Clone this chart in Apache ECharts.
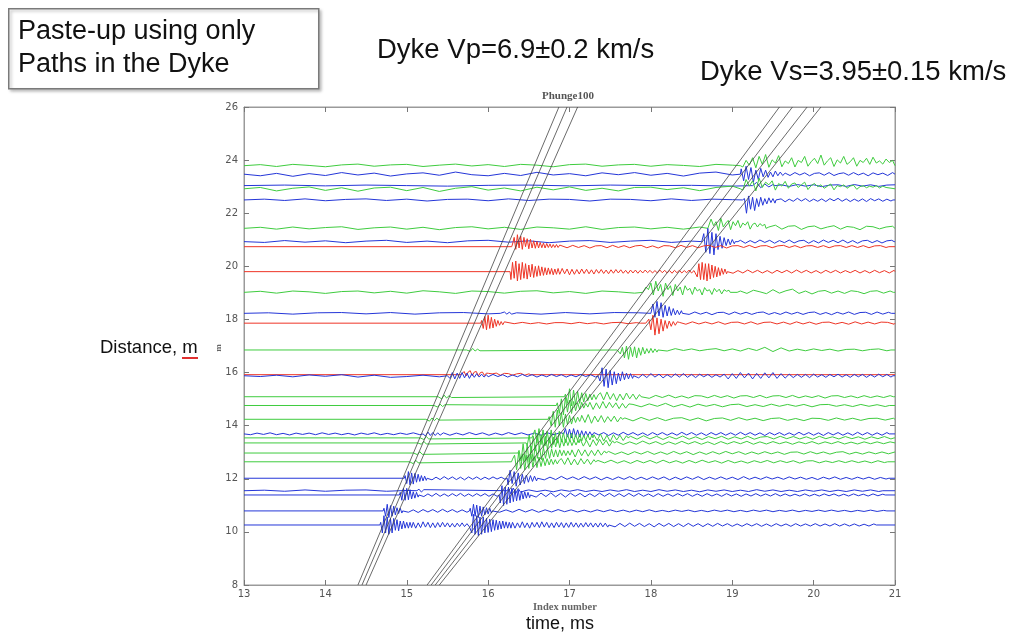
<!DOCTYPE html>
<html>
<head>
<meta charset="utf-8">
<script src="https://cdn.jsdelivr.net/npm/echarts@6/dist/echarts.min.js"></script>
<style>html,body{margin:0;padding:0;background:#fff;}#chart{width:1015px;height:637px;}</style>
</head>
<body>
<div id="chart"></div>
<script>
// ---- axis ticks ----
const xTicks = [13, 14, 15, 16, 17, 18, 19, 20, 21];
const yTicks = [8, 10, 12, 14, 16, 18, 20, 22, 24, 26];

// ---- move-out lines: time (ms) at distance 8 m and at 26 m ----
const lineDepths = [8, 26];
const pLines = [[14.40, 16.87], [14.45, 16.97], [14.50, 17.10]];
const sLines = [[15.25, 19.58], [15.30, 19.74], [15.35, 19.92], [15.40, 20.09]];

// ---- traces: kind (g=green, b=blue, r=red), baseline distance (m) ----
const traceKinds = ['g','b','b','g','b','g','b','r','r','g','b','r','g','r','b','g','g','g','b','g','g','g','g','b','b','b','b','b'];
const traceBase = [23.79, 23.47, 23.04, 22.92, 22.50, 21.43, 20.93, 20.74, 19.80, 19.02, 18.23, 17.86, 16.85, 15.92, 15.88, 15.09, 14.76, 14.24, 13.69, 13.54, 13.35, 12.97, 12.64, 12.02, 11.55, 11.39, 10.79, 10.26];

// ---- trace wiggles: [start time, sample step, offsets (m)] ----
const traceWiggles = [
  [[13, 0.2, [0,.04,-.03,.05,.01,-.04,.03,.06,-.02,.03,.05,-.03,.02,.06,-.01,.04,-.03,.05,.02,-.04,.04,.06,-.02,.03,.05,-.02,.04,.01,-.03,.05,.02]],
   [19.05, 0.04, [.05,.12,-.05,.2,.02,.3,-.08,.35,.05,.42,-.06,.22,.1,.38,-.04,.18,.08,.3,-.05,.2,.12,.35,-.02,.15,.28,.08,.4,.02,.18,.3,-.03,.22,.1,.35,.05,.15,.3,-.02,.2,.12,.28,.05,.32,.1,.18,.06,.25,.12,.2,.1]]],
  [[13, 0.2, [0,-.06,.03,-.08,.02,-.05,.06,-.03,.04,-.07,.01,.05,-.04,.08,-.02,-.06,.03,-.05,.07,-.03,.02,-.06,.05,-.02,.06,-.04,.03,-.07,.04,.08,-.03]],
   [19.05, 0.03, [.05,-.15,.2,-.25,.3,-.2,.25,-.3,.15,-.2,.22,-.1,.15,-.12,.08,-.1,.12,-.06,.08,-.05]],
   [19.65, 0.06, [.04,-.05,.06,-.03,.05,-.06,.03,.05,-.04,.06,-.05,.02,.05,-.04,.06,-.03,.04,-.06,.05,-.02,.04,-.05,.06]]],
  [[13, 0.5, [0,.02,-.01,.02,0,-.02,.01,.02,-.01,.02,0,.01,-.02]],
   [19.1, 0.05, [.1,-.15,.2,-.1,.12,-.08,.06,-.05,.04]],
   [19.6, 0.1, [.03,-.03,.04,-.02,.03,-.04,.02,.03,-.03,.04,-.02,.03,-.03,.02,.03]]],
  [[13, 0.2, [0,.05,-.08,.02,.07,-.06,.04,-.09,.03,.06,-.07,.05,-.1,.02,.08,-.05,.03,-.08,.06,-.04,.07,-.06,.02,-.08,.05,.06,-.03,.04,-.07,.05,.1]],
   [19.05, 0.04, [.1,.25,-.05,.35,.1,.3,-.08,.4,.05,.25,.15,.3,-.05,.2,.1,.28,.02,.18,.22,.05,.15,.25,-.03,.12,.2,.08,.15,.02,.1,.18,-.04,.12,.08,.15,.02,.1,.14,-.02,.08,.12,.04,.1,.06,.12,.03,.1,.05]]],
  [[13, 0.25, [0,.03,-.02,.04,-.03,.02,.04,-.02,.03,-.04,.02,.03,-.03,.04,-.02,.03,.02,-.04,.03,.02,-.03,.04,-.02,.03,.01]],
   [19.05, 0.025, [-.1,-.3,.1,-.45,.05,-.5,.15,-.35,.1,-.4,.05,-.25,.1,-.2,.05,-.15,.08,-.1,.05,-.12]],
   [19.55, 0.05, [-.06,.04,-.07,.03,-.05,.06,-.04,.05,-.06,.03,-.05,.04,-.06,.05,-.03,.06,-.05,.04,-.06,.03,-.05,.04,-.06,.05,-.03,.04,-.05,.03,-.04]]],
  [[13, 0.2, [0,.04,-.03,.05,-.02,.03,.06,-.04,.02,.05,-.03,.04,-.05,.03,.06,-.02,.04,-.04,.05,.02,-.03,.06,-.04,.03,.05,-.02,.04,-.03,.05]],
   [18.65, 0.03, [.1,.3,-.05,.35,.1,.25,-.08,.38,.05,.2,.3,-.05,.25,.1,.3,.02,.2,.12,.25,-.03,.15,.2,.05,.18,.1,.15]],
   [19.45, 0.08, [.05,.12,-.03,.08,.1,-.04,.06,.09,-.02,.05,.1,-.03,.07,.04,-.05,.08,.06,-.02,.05,.08]]],
  [[13, 0.25, [0,-.03,.04,-.02,.03,-.04,.02,.05,-.03,.02,-.04,.03,.05,-.02,.03,-.04,.02,.04,-.03,.02,.05,-.03,.02]],
   [18.6, 0.025, [.05,-.2,.3,-.4,.5,-.45,.35,-.5,.3,-.3,.2,-.25,.15,-.15,.1,-.12,.08,-.08]],
   [19.1, 0.06, [.05,-.06,.04,-.05,.06,-.03,.05,-.06,.04,-.04,.06,-.05,.03,.05,-.06,.04,-.05,.06,-.03,.05,-.04,.06,-.05,.04,-.06,.03,.05,-.04,.04,-.05,.03,.05]]],
  [[16.3, 0.02, [.1,.35,-.1,.45,-.05,.4,-.1,.35,0,.3,-.08,.28,-.05,.22,-.06,.2,-.05,.16,-.04,.14,-.05,.12,-.03,.1,-.04,.08,-.03,.08,-.03,.06]],
   [16.9, 0.07, [.04,-.04,.05,-.03,.04,-.05,.03,.04,-.04,.05,-.03,.04,-.04,.03,.05,-.04,.03,-.05,.04,.03,-.04,.05,-.03,.04,-.04,.03,.05,-.03,.04,-.05,.03,.04,-.03,.05,-.04,.03,.04,-.04,.03,.05,-.03,.04,-.04,.03,.04,-.03,.04,-.04,.03,.04,-.03,.04,-.03,.04,-.04,.03,.04,-.03]]],
  [[16.28, 0.02, [-.3,.35,-.25,.4,-.35,.3,-.3,.35,-.25,.3,-.28,.25,-.2,.28,-.22,.2,-.18,.22,-.15,.18,-.14,.15,-.12,.14,-.1,.12,-.12,.1,-.1,.12]],
   [16.88, 0.03, [-.1,.12,-.08,.1,-.12,.09,-.1,.08,-.09,.1,-.07,.09,-.08,.07,-.09,.08,-.06,.08,-.07,.06,-.08,.07,-.06,.08,-.05,.07,-.06,.05,-.07,.06,-.05,.06,-.06,.05,-.05,.06,-.04,.05,-.05,.04,-.05,.06,-.04,.05,-.05,.04,-.06,.05,-.04,.05,-.05,.04,-.04,.06,-.05,.04]],
   [18.55, 0.02, [.1,-.2,.3,-.3,.35,-.3,.3,-.35,.3,-.28,.25,-.22,.2,-.2,.15,-.15,.12,-.1,.1,-.08]],
   [18.95, 0.06, [.05,-.06,.04,-.05,.06,-.04,.05,-.05,.04,-.06,.05,-.04,.05,-.05,.06,-.04,.05,-.05,.04,-.06,.05,-.04,.05,-.05,.04,-.04,.05,-.05,.04,-.05,.05,-.04,.04,-.05,.05]]],
  [[13, 0.2, [0,.04,-.03,.05,.02,-.04,.03,.05,-.02,.04,-.03,.06,.02,-.04,.05,.03,-.03,.04,.06,-.02,.03,-.04,.05,.02,-.03]],
   [17.85, 0.03, [.05,.15,-.05,.2,.1,.35,-.1,.42,.05,.3,-.15,.35,.1,.25,-.12,.3,.05,.2,-.1,.25,.08,.15,-.08,.2,.05,.12,-.1,.18,.05,.1,-.08,.15,.02,.12,-.06,.1,.04,.08]],
   [19.1, 0.08, [.05,-.04,.08,.02,-.05,.1,-.03,.06,.12,-.04,.05,-.06,.04,.07,-.03,.05,-.04,.06,.03,-.05,.04,.06,-.03,.05]]],
  [[13, 0.3, [0,.02,-.03,.02,.03,-.02,.03,-.03,.02,.03,-.02]],
   [16.02, 0.03, [.05,-.06,.08,-.05,.06,-.04,.05,-.03,.04,-.03]],
   [16.35, 0.3, [.02,-.03,.03,-.02,.03,.02]],
   [17.95, 0.025, [.05,.2,-.1,.35,-.15,.45,-.1,.4,-.15,.3,-.1,.25,-.08,.18,-.06,.12,-.05,.1]],
   [18.4, 0.07, [.04,-.04,.05,-.03,.04,-.05,.03,.04,-.04,.05,-.03,.04,-.04,.03,.05,-.04,.03,-.04,.05,-.03,.04,-.04,.03,.05,-.04,.03,-.05,.04,-.03,.05,-.04,.03,.04,-.04,.05,-.03,.04]]],
  [[15.92, 0.02, [.1,-.2,.25,-.25,.3,-.2,.22,-.18,.15,-.12,.1,-.08,.06,-.06,.05]],
   [16.22, 0.1, [.02,-.02,.03,-.02,.02,-.03,.02,.02,-.02,.03,-.02,.02,-.03,.02,.03,-.02,.02]],
   [17.95, 0.025, [-.05,.15,-.25,.3,-.45,.2,-.4,.15,-.3,.1,-.2,.08,-.12,.06,-.08,.05]],
   [18.35, 0.08, [.03,-.04,.05,-.03,.04,-.03,.05,-.04,.03,.04,-.03,.05,-.04,.03,.04,-.03,.04,-.04,.05,-.03,.04,-.04,.03,.04,-.03,.03,-.04,.05,-.03,.04,-.03,.04,.03,-.04]]],
  [[15.75, 0.03, [.04,-.05,.06,-.04,.03,-.03]],
   [17.6, 0.025, [.05,-.15,.1,-.3,.15,-.35,.1,-.25,.12,-.3,.08,-.2,.1,-.15,.05,-.12,.06,-.1,.04,-.08]],
   [18.1, 0.1, [.03,-.04,.05,-.02,.04,-.03,.02,.05,-.03,.04,-.04,.06,-.02,.1,-.06,.08,-.04,.03,-.03,.04,-.02,.03,-.04,.02,.03,-.03,.02,.04,-.03]]],
  [[15.68, 0.025, [.05,.12,-.05,.1,.15,-.04,.1,.12,-.05,.08,.1,-.03,.06,.05]],
   [16.05, 0.05, [.03,.06,-.02,.05,.04,-.02,.03,.05,-.02,.03]]],
  [[13, 0.2, [0,-.03,.02,-.04,.03,-.02,.04,-.05,.02,-.06,-.03,.02,-.04]],
   [15.5, 0.03, [.05,-.1,.12,-.12,.1,-.1,.12,-.08,.1,-.1,.08,-.06,.08,-.05,.06,-.05,.04]],
   [16.0, 0.06, [-.04,.05,-.03,.04,-.05,.03,-.04,.05,-.03,.04,-.05,.03,-.04,.05,-.03,.04,-.05,.03,-.04,.05,-.03,.04,-.05]],
   [17.35, 0.025, [.1,-.2,.3,-.4,.25,-.45,.2,-.35,.15,-.3,.1,-.2,.15,-.15,.1,-.12,.08,-.1]],
   [17.8, 0.05, [.06,-.08,.05,-.07,.08,-.05,.06,-.08,.04,-.06,.07,-.05,.08,-.06,.05,-.07,.06,-.04,.05,-.06,.04,-.05,.06,-.12,.08,-.1,.12,-.08,.1,-.12,.09,-.1,.11,-.08,.12,-.1,.08,-.09,.06,-.07,.05,-.06,.05,-.07,.06,-.05,.04,-.06,.05,-.04,.06,-.05,.04,-.06,.05,-.04,.05,-.06,.04,-.05,.06,-.04,.05,-.05]]],
  [[15.4, 0.03, [.05,-.08,.06,-.05,.04,-.03]],
   [16.95, 0.025, [.1,-.25,.3,-.35,.25,-.3,.2,-.25,.15,-.2,.12,-.15,.1,-.12,.08,-.1,.06]],
   [17.38, 0.04, [.15,-.12,.18,-.1,.12,-.15,.1,-.12,.14,-.08,.1,-.1,.08]],
   [17.9, 0.08, [.04,-.06,.05,-.03,.06,-.04,.03,-.05,.04,.03,-.04,.05,-.03,.04,-.05,.03,.04,-.03,.05,-.04,.03,.04,-.03,.05,-.04,.03,-.03,.04,-.05,.03,.04,-.03,.03,-.04,.04,-.03,.03,-.03,.04]]],
  [[15.35, 0.03, [.05,-.06,.05,-.04,.03]],
   [16.85, 0.025, [.1,-.3,.25,-.35,.3,-.25,.2,-.3,.15,-.2,.1,-.15,.12,-.1,.08,-.06]],
   [17.25, 0.04, [.12,-.15,.1,-.12,.15,-.1,.12,-.08,.1,-.12,.08,-.1,.06]],
   [17.78, 0.1, [.04,-.05,.06,-.03,.08,-.05,.04,-.06,.05,-.03,.04,-.05,.03,.05,-.04,.03,-.04,.05,-.03,.04,-.03,.04,-.05,.03,.04,-.03,.03,-.04,.04,-.03,.03,-.04]]],
  [[15.25, 0.03, [.06,-.07,.05,-.05,.04,-.03]],
   [16.75, 0.025, [.1,-.25,.3,-.3,.35,-.25,.25,-.3,.2,-.2,.15,-.18,.1,-.12,.08,-.08]],
   [17.15, 0.04, [.15,-.12,.18,-.15,.12,-.1,.14,-.12,.1,-.08,.12,-.1,.08]],
   [17.68, 0.1, [.05,-.06,.07,-.04,.06,-.05,.04,.06,-.04,.05,-.06,.03,.05,-.04,.06,-.03,.04,-.05,.03,.05,-.04,.03,-.05,.04,.03,-.04,.05,-.03,.04,-.04,.03,.04,-.03,.04]]],
  [[13, 0.08, [.02,-.03,.03,-.02,.04,-.03,.02,-.04,.03,-.02,.03,-.03,.04,-.02,.03,-.03,.02,-.04,.03,-.02,.04,-.03,.02,-.03,.03,-.02,.04,-.03]],
   [15.2, 0.03, [.06,-.08,.07,-.06,.05,-.06,.04,-.05]],
   [15.45, 0.08, [.04,-.05,.03,-.04,.05,-.03,.04,-.05,.03,-.04,.05,-.03,.04,-.04,.03,-.05,.04,-.03,.05]],
   [16.9, 0.025, [.1,-.15,.2,-.12,.18,-.15,.2,-.1,.15,-.12,.12,-.1,.1,-.08,.08,-.06]],
   [17.3, 0.06, [.05,-.04,.05,-.06,.04,-.05,.06,-.04,.05,-.05,.04,-.06,.05,-.04,.05,-.05,.04,-.05,.06,-.04,.05,-.05,.04,-.06,.05,-.04,.05,-.05,.04,-.05,.06,-.04,.05,-.05,.04,-.06,.05,-.04,.05,-.05,.04,-.05,.06,-.04,.05,-.05,.04,-.06,.05,-.04,.05,-.05,.04,-.05,.06,-.04,.05,-.05,.04,-.05,.05]]],
  [[15.18, 0.03, [.05,-.06,.05,-.04]],
   [16.55, 0.025, [.1,.3,-.2,.35,-.25,.3,-.3,.25,-.2,.3,-.25,.2,-.2,.25,-.15,.2,-.18,.15,-.12,.18,-.15,.12,-.1,.15,-.12,.1,-.1,.12,-.08,.1]],
   [17.3, 0.04, [.12,-.1,.15,-.12,.1,-.14,.12,-.08,.1,-.1,.08]],
   [17.75, 0.08, [.06,-.05,.08,-.04,.06,-.06,.05,-.04,.07,-.05,.04,-.06,.05,-.03,.06,-.05,.04,-.04,.06,-.05,.03,.05,-.04,.06,-.03,.05,-.04,.04,-.05,.06,-.03,.04,-.04,.05,-.03,.04,-.05,.04,-.03,.05,-.04]]],
  [[15.15, 0.03, [.05,-.05,.06,-.04]],
   [16.48, 0.025, [-.1,.3,-.35,.25,-.3,.35,-.25,.3,-.2,.25,-.25,.2,-.2,.22,-.15,.18,-.18,.15,-.12,.15,-.1,.12,-.1,.1,-.08,.1]],
   [17.13, 0.04, [.15,-.12,.1,-.15,.12,-.1,.14,-.08,.1,-.12,.08]],
   [17.58, 0.08, [.05,-.06,.04,-.05,.07,-.04,.05,-.06,.04,-.05,.06,-.04,.05,-.05,.04,-.06,.05,-.04,.05,-.03,.06,-.05,.04,-.04,.05,-.03,.04,-.05,.04,-.03,.05,-.04,.04,-.03,.05,-.04,.03,-.04,.04,-.03,.04,-.03,.04,-.03]]],
  [[15.1, 0.03, [.06,-.06,.05,-.05]],
   [16.38, 0.025, [.1,-.3,.35,-.3,.3,-.35,.25,-.3,.3,-.2,.25,-.25,.2,-.2,.18,-.2,.15,-.15,.12,-.15,.12,-.1,.1,-.1,.08,-.08]],
   [17.03, 0.04, [.12,-.15,.14,-.1,.12,-.12,.1,-.1,.12,-.08,.08]],
   [17.48, 0.08, [.06,-.05,.04,-.06,.05,-.04,.06,-.05,.04,-.05,.06,-.04,.05,-.06,.04,-.05,.05,-.04,.06,-.03,.05,-.05,.04,-.04,.05,-.03,.04,-.05,.03,.04,-.04,.05,-.03,.04,-.04,.03,.05,-.04,.03,-.04,.04,-.03,.04,-.03,.04]]],
  [[15.05, 0.03, [.05,-.07,.06,-.04]],
   [16.3, 0.025, [.1,.25,-.3,.35,-.25,.3,-.3,.25,-.25,.3,-.2,.2,-.22,.18,-.18,.15,-.15,.12,-.12,.1,-.1,.08,-.08,.06]],
   [16.9, 0.04, [.12,-.1,.15,-.12,.1,-.12,.12,-.08,.1,-.1,.08]],
   [17.35, 0.08, [.05,-.04,.06,-.05,.04,-.06,.05,-.04,.05,-.05,.06,-.04,.04,-.05,.05,-.04,.06,-.03,.04,-.05,.05,-.04,.03,-.05,.04,-.03,.05,-.04,.04,-.03,.04,-.05,.03,.04,-.04,.03,-.03,.04,-.03,.04,-.03,.03,-.04,.04,-.03]]],
  [[14.98, 0.02, [.1,-.2,.25,-.25,.2,-.22,.18,-.15,.15,-.12,.1,-.1,.08,-.08]],
   [15.26, 0.05, [.05,-.06,.04,-.05,.06,-.04,.05,-.05,.04,-.06,.05,-.04,.05,-.05,.04,-.04,.05,-.03,.04,-.04]],
   [16.22, 0.025, [.1,-.25,.3,-.2,.25,-.3,.2,-.25,.15,-.2,.12,-.15,.1,-.12,.08,-.1]],
   [16.62, 0.07, [.05,-.06,.04,-.05,.07,-.04,.05,-.05,.06,-.04,.05,-.06,.04,-.05,.05,-.04,.06,-.05,.04,-.05,.05,-.04,.05,-.06,.04,-.05,.05,-.04,.06,-.05,.04,-.04,.05,-.04,.04,-.05,.06,-.04,.04,-.04,.05,-.03,.04,-.04,.05,-.03,.04,-.04,.03,-.05,.04,-.03,.05,-.04,.03,-.04,.04,-.03,.04,-.04,.03,-.03]]],
  [[13, 0.25, [0,.02,-.02,.03,-.02,.02,.03,-.02,.01]],
   [15.03, 0.03, [.05,-.08,.1,-.08,.06,-.05,.04]],
   [16.25, 0.03, [.08,-.12,.1,-.1,.08,-.06]],
   [16.5, 0.1, [.03,-.03,.02,-.04,.03,-.02,.04,-.03,.02,-.03,.03,-.02,.04,-.03,.02,-.03,.04,-.02,.03,-.03,.02,-.04,.03,-.02,.03,-.03,.02,-.03,.04,-.02,.03,-.03,.02,-.03,.03,-.02,.03,-.03,.02,-.03,.03,-.02,.03,-.03]]],
  [[14.92, 0.02, [.1,-.2,.25,-.2,.25,-.18,.2,-.15,.12,-.12,.1,-.08]],
   [15.16, 0.05, [.05,-.06,.04,-.05,.06,-.05,.04,-.05,.05,-.04,.06,-.05,.04,-.05,.05,-.04,.05,-.05,.04,-.05]],
   [16.13, 0.02, [.1,-.3,.35,-.4,.3,-.35,.3,-.3,.25,-.25,.2,-.22,.18,-.2,.15,-.15,.12,-.12,.1,-.1]],
   [16.53, 0.06, [.06,-.08,.07,-.06,.08,-.07,.06,-.08,.07,-.05,.06,-.07,.05,-.06,.07,-.05,.06,-.06,.05,-.06,.06,-.05,.06,-.05,.04,-.06,.05,-.05,.04,-.05,.05,-.04,.05,-.05,.04,-.05,.05,-.04,.04,-.05,.05,-.04,.04,-.05,.04,-.04,.05,-.04,.04,-.04,.05,-.04,.04,-.04,.03,-.04,.04,-.04,.03,-.04,.04,-.03,.04,-.04,.03,-.04,.04,-.03,.03,-.04,.04,-.03,.03]]],
  [[14.72, 0.02, [.1,-.2,.25,-.25,.2,-.2,.18,-.15,.12,-.1,.1,-.08]],
   [14.96, 0.06, [.05,-.05,.04,-.06,.05,-.04,.05,-.05,.06,-.04,.05,-.05,.04,-.05]],
   [15.78, 0.02, [.1,-.2,.25,-.2,.22,-.25,.18,-.2,.15,-.15,.12,-.12,.1,-.08]],
   [16.06, 0.08, [.05,-.05,.04,-.05,.06,-.04,.05,-.05,.04,-.04,.05,-.03,.04,-.04,.03,-.04,.04,-.03,.04,-.03,.03,-.04,.03,-.03,.04,-.03,.02,-.03,.03,-.02,.03,-.03,.02,-.03,.03,-.02,.03,-.03,.02,-.03,.03,-.02,.03,-.03,.02,-.02,.03,-.03,.02,-.02,.03,-.02,.03,-.02,.02,-.03,.02,-.02,.03,-.02,.02]]],
  [[14.68, 0.02, [.1,-.3,.35,-.3,.3,-.35,.25,-.3,.25,-.2,.2,-.22,.15,-.15,.15,-.12,.1,-.12,.1,-.1]],
   [15.08, 0.03, [.1,-.12,.08,-.1,.12,-.08,.1,-.1,.08,-.1,.09,-.08,.1,-.07,.08,-.08,.06,-.08,.07,-.06,.08,-.06,.05,-.07]],
   [15.78, 0.02, [.15,-.3,.4,-.35,.35,-.4,.3,-.35,.3,-.3,.25,-.28,.22,-.25,.2,-.2,.18,-.18,.15,-.15,.15,-.12,.12,-.12,.1,-.12]],
   [16.3, 0.03, [.1,-.12,.08,-.1,.12,-.1,.08,-.12,.1,-.08,.1,-.1,.12,-.08,.1,-.1,.08,-.1,.1,-.08,.09,-.1,.08,-.09,.1,-.08,.08,-.09,.07,-.08,.09,-.07,.08,-.08,.07,-.08,.08,-.07,.07,-.08]],
   [17.5, 0.06, [.06,-.07,.06,-.06,.07,-.05,.06,-.06,.05,-.07,.06,-.05,.06,-.06,.05,-.06,.06,-.05,.05,-.06,.05,-.05,.06,-.04,.05,-.05,.04,-.05,.05,-.04,.05,-.05,.04,-.05,.05,-.04,.04,-.05,.05,-.04,.04,-.04,.05,-.04,.04,-.04,.05,-.04,.04,-.04,.04,-.04,.03,-.04,.04]]]
];

const kindColor = { g: '#3fcc3f', b: '#2436d8', r: '#ee3526' };

function buildTrace(i) {
  const base = traceBase[i];
  const pts = [[13, base]];
  let last = 13;
  traceWiggles[i].forEach(([t0, dt, vals]) => {
    const pre = +(t0 - dt * 0.5).toFixed(4);
    if (pre > last) { pts.push([pre, base]); last = pre; }
    vals.forEach((v, k) => {
      const t = +(t0 + k * dt).toFixed(4);
      if (t > last && t <= 21) { pts.push([t, +(base + v).toFixed(3)]); last = t; }
    });
    const post = +(t0 + (vals.length - 0.5) * dt).toFixed(4);
    if (post > last && post < 21) { pts.push([post, base]); last = post; }
  });
  if (last < 21) pts.push([21, base]);
  return pts;
}

const series = [];
traceBase.forEach((b, i) => {
  series.push({
    type: 'line', data: buildTrace(i), showSymbol: false, symbol: 'none',
    lineStyle: { width: 1, color: kindColor[traceKinds[i]] },
    silent: true, animation: false, clip: true, z: 2
  });
});
[...pLines, ...sLines].forEach(l => {
  series.push({
    type: 'line', data: [[l[0], lineDepths[0]], [l[1], lineDepths[1]]],
    showSymbol: false, symbol: 'none',
    lineStyle: { width: 0.8, color: '#444' }, silent: true, animation: false, clip: true, z: 5
  });
});

const chart = echarts.init(document.getElementById('chart'), null, { renderer: 'canvas' });
const tickFont = { color: '#555', fontSize: 10, fontFamily: 'DejaVu Sans' };
const bigFont = '"Liberation Sans", Arial, sans-serif';
chart.setOption({
  backgroundColor: '#fff',
  animation: false,
  grid: { left: 244, top: 107, width: 651, height: 478, show: true, borderColor: '#9a9a9a', borderWidth: 1, backgroundColor: 'transparent' },
  xAxis: [
    { type: 'value', min: xTicks[0], max: xTicks[xTicks.length - 1], interval: 1, position: 'bottom',
      axisLine: { show: true, lineStyle: { color: '#9a9a9a' } }, axisTick: { inside: true, length: 5, lineStyle: { color: '#777' } },
      splitLine: { show: false }, axisLabel: Object.assign({ margin: 4 }, tickFont) },
    { type: 'value', min: xTicks[0], max: xTicks[xTicks.length - 1], interval: 1, position: 'top',
      axisLine: { show: true, lineStyle: { color: '#9a9a9a' } }, axisTick: { inside: true, length: 5, lineStyle: { color: '#777' } },
      splitLine: { show: false }, axisLabel: { show: false } }
  ],
  yAxis: [
    { type: 'value', min: yTicks[0], max: yTicks[yTicks.length - 1], interval: 2, position: 'left',
      axisLine: { show: true, lineStyle: { color: '#9a9a9a' } }, axisTick: { inside: true, length: 5, lineStyle: { color: '#777' } },
      splitLine: { show: false }, axisLabel: Object.assign({ margin: 6 }, tickFont) },
    { type: 'value', min: yTicks[0], max: yTicks[yTicks.length - 1], interval: 2, position: 'right',
      axisLine: { show: true, lineStyle: { color: '#9a9a9a' } }, axisTick: { inside: true, length: 5, lineStyle: { color: '#777' } },
      splitLine: { show: false }, axisLabel: { show: false } }
  ],
  series: series,
  graphic: [
    { type: 'rect', left: 8, top: 8, shape: { width: 310, height: 80 },
      style: { fill: '#fff', stroke: '#7a7a7a', lineWidth: 1.5, shadowBlur: 3, shadowOffsetX: 2, shadowOffsetY: 2, shadowColor: 'rgba(0,0,0,0.25)' }, z: 10 },
    { type: 'text', left: 18, top: 18, z: 11, style: { text: 'Paste-up using only', font: '27px ' + bigFont, fill: '#111' } },
    { type: 'text', left: 18, top: 51, z: 11, style: { text: 'Paths in the Dyke', font: '27px ' + bigFont, fill: '#111' } },
    { type: 'text', left: 377, top: 36, z: 11, style: { text: 'Dyke Vp=6.9\u00b10.2 km/s', font: '27.5px ' + bigFont, fill: '#111' } },
    { type: 'text', left: 700, top: 58, z: 11, style: { text: 'Dyke Vs=3.95\u00b10.15 km/s', font: '27.5px ' + bigFont, fill: '#111' } },
    { type: 'text', left: 542, top: 91, z: 11, style: { text: 'Phunge100', font: 'bold 11px "Liberation Serif", serif', fill: '#555' } },
    { type: 'text', left: 533, top: 602, z: 11, style: { text: 'Index number', font: 'bold 10.5px "Liberation Serif", serif', fill: '#666' } },
    { type: 'text', left: 526, top: 615, z: 11, style: { text: 'time, ms', font: '18px ' + bigFont, fill: '#111' } },
    { type: 'text', left: 100, top: 338, z: 11, style: { text: 'Distance, m', font: '18.5px ' + bigFont, fill: '#111' } },
    { type: 'line', shape: { x1: 182, y1: 358, x2: 198, y2: 358 }, style: { stroke: '#e03030', lineWidth: 2 }, z: 11 },
    { type: 'text', x: 219, y: 348, rotation: Math.PI / 2, z: 11, style: { text: 'm', font: 'bold 9px "Liberation Serif", serif', fill: '#666', align: 'center', verticalAlign: 'middle' } }
  ]
});
</script>
</body>
</html>
